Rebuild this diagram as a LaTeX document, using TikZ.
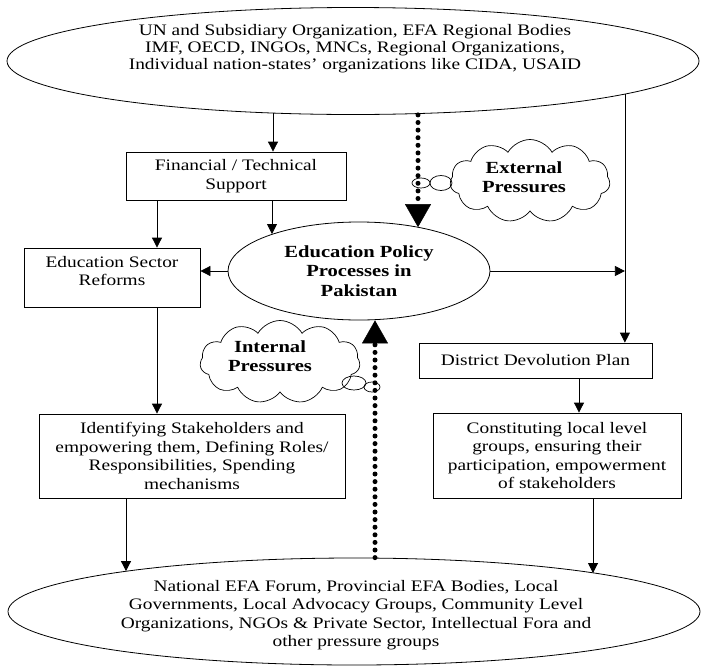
\documentclass[tikz,border=0pt]{standalone}
\usepackage{fontspec}
\setmainfont{Liberation Serif}[FakeStretch=1.21]
\usetikzlibrary{shapes.geometric,shapes.symbols,arrows.meta,calc}
\begin{document}
\begin{tikzpicture}[x=1pt,y=-1pt,
  box/.style={draw, line width=0.8pt, inner sep=0pt},
  oval/.style={ellipse, draw, line width=0.8pt, inner sep=0pt},
  txt/.style={align=center, font=\fontsize{16}{18.5}\selectfont, inner sep=0pt},
  btxt/.style={align=center, font=\fontsize{17}{19.5}\selectfont\bfseries, inner sep=0pt},
  arr/.style={-{Triangle[length=10pt,width=10pt]}, line width=0.8pt},
  dotarr/.style={line width=5pt, line cap=round, dash pattern=on 0pt off 7.6pt, -{Triangle[length=23pt,width=26pt,line width=0.5pt]}},
  puff/.style={cloud, cloud puffs=11, cloud puff arc=120, aspect=1.9, draw, line width=0.7pt, inner sep=0pt},
  bubble/.style={ellipse, draw, line width=0.7pt, inner sep=0pt}
]
\useasboundingbox (0,0) rectangle (701,667);

% ellipses
\node[oval, minimum width=692pt, minimum height=107pt] (top) at (353,61) {};
\node[txt, font=\fontsize{16}{17}\selectfont] (topT) at (355,49) {UN and Subsidiary Organization, EFA Regional Bodies\\IMF, OECD, INGOs, MNCs, Regional Organizations,\\Individual nation-states’ organizations like CIDA, USAID};

\node[oval, btxt, minimum width=262pt, minimum height=98pt] (edu) at (359,271) {Education Policy\\Processes in\\Pakistan};

\node[oval, minimum width=692pt, minimum height=107pt] (bot) at (354,611.5) {};
\node[txt] (botT) at (356,615) {National EFA Forum, Provincial EFA Bodies, Local\\Governments, Local Advocacy Groups, Community Level\\Organizations, NGOs \& Private Sector, Intellectual Fora and\\other pressure groups};

% boxes
\node[box, txt, minimum width=220pt, minimum height=48pt] (fin) at (236,176) {Financial / Technical\\Support};
\node[box, minimum width=176pt, minimum height=59pt] (esr) at (112,277.5) {};
\node[txt] (esrT) at (112,271) {Education Sector\\Reforms};
\node[box, txt, minimum width=233pt, minimum height=35pt] (dist) at (535.5,360.5) {District Devolution Plan};
\node[box, txt, minimum width=306pt, minimum height=84pt] (idf) at (192,456) {Identifying Stakeholders and\\empowering them, Defining Roles/\\Responsibilities, Spending\\mechanisms};
\node[box, txt, minimum width=248pt, minimum height=85pt] (con) at (557,455.5) {Constituting local level\\groups, ensuring their\\participation, empowerment\\of stakeholders};

% clouds
\node[puff, minimum width=160pt, minimum height=83pt] (ext) at (530,181) {};
\node[btxt] (extT) at (524,177) {External\\Pressures};
\node[bubble, minimum width=18pt, minimum height=10pt] (eb1) at (421,183) {};
\node[bubble, minimum width=22pt, minimum height=15pt] (eb2) at (441,183) {};

\node[puff, minimum width=160pt, minimum height=83pt] (int) at (280,362) {};
\node[btxt] (intT) at (270,356) {Internal\\Pressures};
\node[bubble, minimum width=24pt, minimum height=14pt] (ib1) at (354,383) {};
\node[bubble, minimum width=16pt, minimum height=10pt] (ib2) at (372,387) {};

% connectors
\draw[arr] ([xshift=37pt]fin.north |- top.213) -- ([xshift=37pt]fin.north);
\draw[arr] (top.353) -- (top.353 |- dist.north);
\draw[arr] ([xshift=36pt]fin.south) -- ([xshift=36pt]fin.south |- edu.157);
\draw[arr] ([xshift=-79pt]fin.south) -- ([xshift=-79pt]fin.south |- esr.north);
\draw[arr] (edu.west) -- (edu.west -| esr.east);
\draw[arr] (edu.east) -- (edu.east -| top.353);
\draw[arr] ([xshift=45pt]esr.south) -- ([xshift=45pt]esr.south |- idf.north);
\draw[arr] ([xshift=43.5pt]dist.south) -- ([xshift=43.5pt]dist.south |- con.north);
\draw[arr] ([xshift=-66pt]idf.south) -- ([xshift=-66pt]idf.south |- bot.170);
\draw[arr] ([xshift=36pt]con.south) -- ([xshift=36pt]con.south |- bot.9);
\draw[dotarr] ([xshift=59pt]edu.north |- top.south) -- ([xshift=59pt]edu.north |- edu.36);
\draw[dotarr] ([xshift=16pt]edu.south |- bot.north) -- ([xshift=16pt]edu.south);
\end{tikzpicture}
\end{document}
